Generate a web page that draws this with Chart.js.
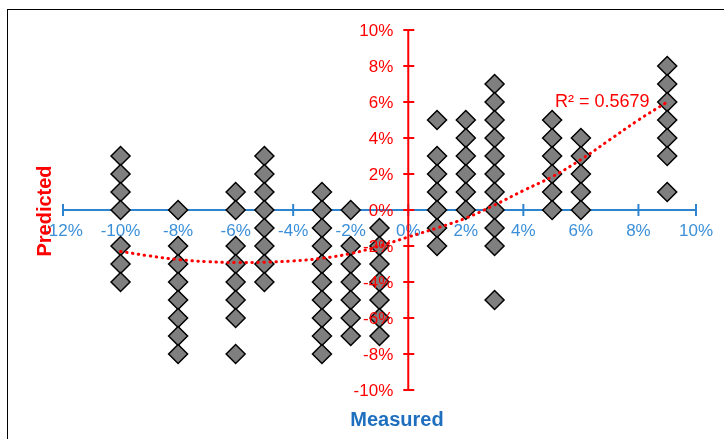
<!DOCTYPE html>
<html>
<head>
<meta charset="utf-8">
<script src="https://cdn.jsdelivr.net/npm/chart.js@4.4.0/dist/chart.umd.min.js"></script>
<style>
    body { margin: 0; background: #fff; }
    #wrap { position: relative; width: 724px; height: 439px; }
</style>
</head>
<body>
<div id="wrap"><canvas id="scatterChart" width="724" height="439"></canvas></div>
<script>
// Measured (x) columns and the predicted values (y) that sit on each column, in %
const measuredCols = [-10, -8, -6, -5, -3, -2, -1, 1, 2, 3, 5, 6, 9];
const predictedCols = [
    [3, 2, 1, 0, -2, -3, -4],
    [0, -2, -3, -4, -5, -6, -7, -8],
    [1, 0, -2, -3, -4, -5, -6, -8],
    [3, 2, 1, 0, -1, -2, -3, -4],
    [1, 0, -1, -2, -3, -4, -5, -6, -7, -8],
    [0, -2, -3, -4, -5, -6, -7],
    [-1, -2, -3, -4, -5, -6, -7],
    [5, 3, 2, 1, 0, -1, -2],
    [5, 4, 3, 2, 1, 0],
    [7, 6, 5, 4, 3, 2, 1, 0, -1, -2, -5],
    [5, 4, 3, 2, 1, 0],
    [4, 3, 2, 1, 0],
    [8, 7, 6, 5, 4, 3, 1]
];

// trendline
const trendX = [-10, -9, -8, -7, -6, -5, -4, -3, -2, -1, 0, 1, 2, 3, 4, 5, 6, 7, 8, 9];
const trendY = [-2.3, -2.55, -2.75, -2.87, -2.92, -2.9, -2.83, -2.68, -2.42, -2.0, -1.5, -1.0, -0.45, 0.28, 1.08, 1.85, 2.8, 3.9, 5.0, 6.0];

const xTickLabels = ['-12%', '-10%', '-8%', '-6%', '-4%', '-2%', '0%', '2%', '4%', '6%', '8%', '10%'];
const yTickValues = [-10, -8, -6, -4, -2, 0, 2, 4, 6, 8, 10];
const yTickLabels = ['-10%', '-8%', '-6%', '-4%', '-2%', '0%', '2%', '4%', '6%', '8%', '10%'];

const r2Text = 'R² = 0.5679';
const r2At = [5.1, 6.0];

const FONT = "'Liberation Sans', Arial, sans-serif";
const RED = '#ff0000';
const BLUE_LINE = '#2f84d0';
const BLUE_TEXT = '#3b8fd8';
const BLUE_TITLE = '#1f6fbf';

const points = [];
measuredCols.forEach((mx, i) => {
    predictedCols[i].forEach(py => points.push({ x: mx, y: py }));
});
const trendPoints = trendX.map((x, i) => ({ x: x, y: trendY[i] }));

// axis lines with cross tick marks, under the markers
const axisLines = {
    id: 'axisLines',
    beforeDatasetsDraw(chart) {
        const ctx = chart.ctx;
        const xs = chart.scales.x;
        const ys = chart.scales.y;
        const y0 = ys.getPixelForValue(0);
        const x0 = xs.getPixelForValue(0);
        ctx.save();
        ctx.lineWidth = 2;
        ctx.strokeStyle = BLUE_LINE;
        ctx.beginPath();
        ctx.moveTo(xs.left, y0);
        ctx.lineTo(xs.right, y0);
        xs.ticks.forEach(t => {
            const px = xs.getPixelForValue(t.value);
            ctx.moveTo(px, y0 - 6);
            ctx.lineTo(px, y0 + 6);
        });
        ctx.stroke();
        ctx.strokeStyle = RED;
        ctx.beginPath();
        ctx.moveTo(x0, ys.top);
        ctx.lineTo(x0, ys.bottom);
        ys.ticks.forEach(t => {
            const py = ys.getPixelForValue(t.value);
            ctx.moveTo(x0 - 5, py);
            ctx.lineTo(x0 + 6, py);
        });
        ctx.stroke();
        ctx.restore();
    }
};

// y tick labels sit left of the crossing axis, above the markers
const yLabels = {
    id: 'yLabels',
    afterDatasetsDraw(chart) {
        const ctx = chart.ctx;
        const xs = chart.scales.x;
        const ys = chart.scales.y;
        const x0 = xs.getPixelForValue(0);
        ctx.save();
        ctx.font = '17px ' + FONT;
        ctx.fillStyle = RED;
        ctx.textAlign = 'right';
        ctx.textBaseline = 'middle';
        yTickValues.forEach((v, i) => {
            ctx.fillText(yTickLabels[i], x0 - 15, ys.getPixelForValue(v) + 1);
        });
        ctx.restore();
    }
};

// titles, R² text and the frame
const extras = {
    id: 'extras',
    afterDraw(chart) {
        const ctx = chart.ctx;
        const xs = chart.scales.x;
        const ys = chart.scales.y;
        ctx.save();
        ctx.strokeStyle = '#000';
        ctx.lineWidth = 1;
        ctx.strokeRect(7.5, 9.5, 800, 500);

        ctx.font = 'bold 20px ' + FONT;
        ctx.fillStyle = BLUE_TITLE;
        ctx.textAlign = 'center';
        ctx.textBaseline = 'middle';
        ctx.fillText('Measured', 397, 420);

        ctx.translate(45, 211);
        ctx.rotate(-Math.PI / 2);
        ctx.fillStyle = RED;
        ctx.fillText('Predicted', 0, 0);
        ctx.restore();

        ctx.save();
        ctx.font = '18px ' + FONT;
        ctx.fillStyle = RED;
        ctx.textAlign = 'left';
        ctx.textBaseline = 'middle';
        ctx.fillText(r2Text, xs.getPixelForValue(r2At[0]), ys.getPixelForValue(r2At[1]));
        ctx.restore();
    }
};

new Chart(document.getElementById('scatterChart').getContext('2d'), {
    type: 'scatter',
    data: {
        datasets: [{
            label: 'Trend',
            data: trendPoints,
            showLine: true,
            borderColor: RED,
            borderWidth: 3,
            borderDash: [0.5, 5.5],
            borderCapStyle: 'round',
            pointRadius: 0,
            tension: 0.4,
            fill: false
        }, {
            label: 'Predicted',
            data: points,
            pointStyle: 'rectRot',
            pointRadius: 9.5,
            pointHoverRadius: 9.5,
            backgroundColor: '#7f7f7f',
            borderColor: '#000',
            pointBorderWidth: 1.5,
            borderWidth: 1.5
        }]
    },
    options: {
        responsive: false,
        animation: false,
        devicePixelRatio: 1,
        layout: { padding: { left: 63, right: 28, top: 30, bottom: 49 } },
        plugins: {
            legend: { display: false },
            tooltip: { enabled: false }
        },
        scales: {
            x: {
                type: 'linear',
                position: { y: 0 },
                min: -12,
                max: 10,
                z: 1,
                border: { display: false },
                grid: { display: false, drawTicks: false },
                ticks: {
                    stepSize: 2,
                    autoSkip: false,
                    maxRotation: 0,
                    padding: 11,
                    color: BLUE_TEXT,
                    font: { size: 17, family: FONT },
                    showLabelBackdrop: true,
                    backdropColor: '#ffffff',
                    backdropPadding: { top: 2, bottom: 4, left: 3, right: 3 },
                    callback: (v, i) => xTickLabels[i]
                }
            },
            y: {
                type: 'linear',
                position: { x: 0 },
                min: -10,
                max: 10,
                border: { display: false },
                grid: { display: false, drawTicks: false },
                ticks: {
                    stepSize: 2,
                    display: false
                }
            }
        }
    },
    plugins: [axisLines, yLabels, extras]
});
</script>
</body>
</html>
